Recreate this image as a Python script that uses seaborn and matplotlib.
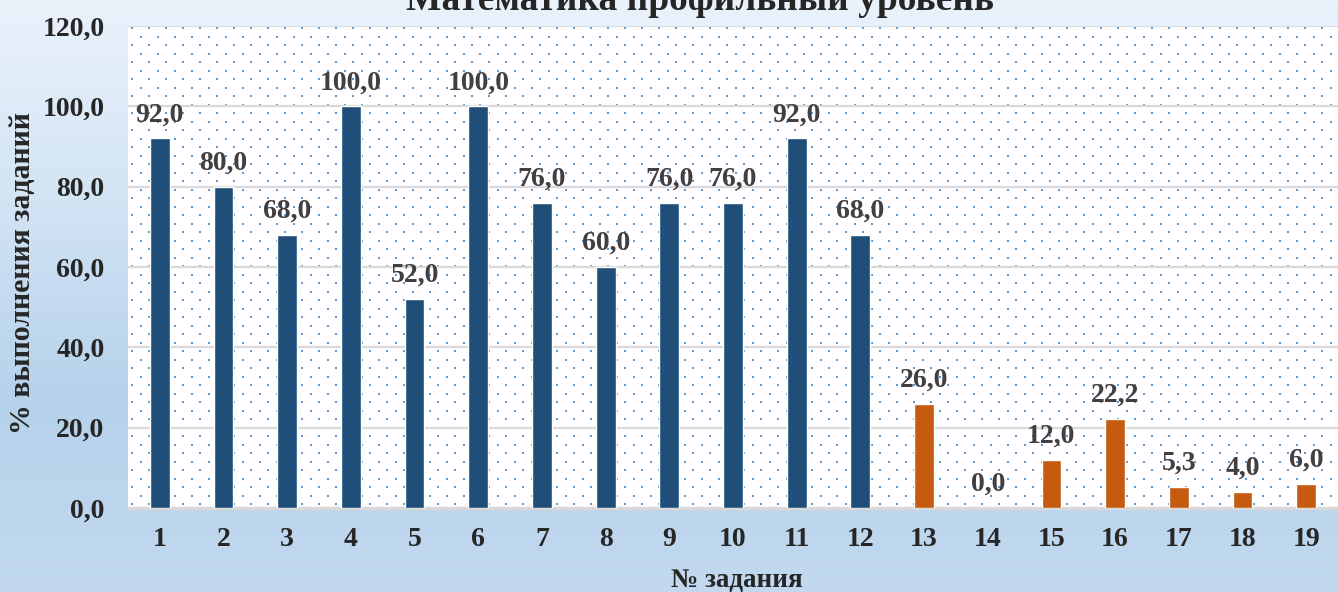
import numpy as np
import pandas as pd
import matplotlib
matplotlib.use("Agg")
import matplotlib.pyplot as plt
from matplotlib.colors import LinearSegmentedColormap
from matplotlib.ticker import FuncFormatter
import seaborn as sns

# ---------- data ----------
tasks = [str(i) for i in range(1, 20)]
percent = [92.0, 80.0, 68.0, 100.0, 52.0, 100.0, 76.0, 60.0, 76.0, 76.0, 92.0, 68.0,
           26.0, 0.0, 12.0, 22.2, 5.3, 4.0, 6.0]
part = ["base"] * 12 + ["profile"] * 7

df = pd.DataFrame({"task": tasks, "pct": percent, "part": part})
colors = {"base": "#1f4e79", "profile": "#c55a11"}

sns.set_style("white")
plt.rcParams["font.family"] = ["Liberation Serif", "DejaVu Serif"]
plt.rcParams["font.weight"] = "bold"

fig = plt.figure(figsize=(13.38, 5.92), dpi=100)

# ---------- background gradient ----------
bg = fig.add_axes([0, 0, 1, 1], zorder=-10)
grad = np.linspace(0, 1, 256).reshape(-1, 1)
cmap = LinearSegmentedColormap.from_list("bg", ["#eaf2fb", "#d3e4f4", "#b6d2eb", "#c2d9ef"])
bg.imshow(grad, aspect="auto", cmap=cmap, extent=[0, 1, 0, 1], origin="upper")
bg.axis("off")

ax = fig.add_axes([128 / 1338, 1 - 508 / 592, 1210 / 1338, 482 / 592])
ax.set_facecolor("white")

# dotted pattern of the plot area
xs = np.arange(0, 1210, 17.0)
ys = np.arange(0, 482, 8.5)
px, py = [], []
for j, yy in enumerate(ys):
    off = 0 if j % 2 == 0 else 8.5
    px.extend((xs + off + 4) / 1210)
    py.extend([(yy + 4) / 482] * len(xs))
ax.scatter(px, py, s=3, color="#5b9bd5", marker="s", linewidths=0,
           transform=ax.transAxes, zorder=0, clip_on=True)

sns.barplot(data=df, x="task", y="pct", hue="part", palette=colors, dodge=False,
            width=0.31, legend=False, ax=ax, zorder=3, saturation=1)

for cont in ax.containers:
    ax.bar_label(cont, labels=[f"{v:.1f}".replace(".", ",") for v in cont.datavalues],
                 padding=8, fontsize=20, fontweight="bold", color="#404040")

ax.set_ylim(0, 120)
ax.set_yticks(np.arange(0, 121, 20))
ax.yaxis.set_major_formatter(FuncFormatter(lambda v, p: f"{v:.1f}".replace(".", ",")))
ax.grid(axis="y", color="#d9d9d9", linewidth=1.6, zorder=1)
ax.set_axisbelow(True)
for s in ["top", "right", "left"]:
    ax.spines[s].set_visible(False)
ax.spines["bottom"].set_color("#d9d9d9")
ax.spines["bottom"].set_linewidth(2.5)
ax.tick_params(axis="both", length=0, labelsize=20)
ax.tick_params(axis="y", pad=17)
ax.tick_params(axis="x", pad=14)
for lab in ax.get_xticklabels() + ax.get_yticklabels():
    lab.set_fontweight("bold")

ax.set_xlabel("№ задания", fontsize=19.5, fontweight="bold", va="center")
ax.set_ylabel("% выполнения заданий", fontsize=21.5, fontweight="bold", va="center")
ax.xaxis.set_label_coords(609 / 1210, -72 / 482)
ax.yaxis.set_label_coords(-105 / 1210, (508 - 273) / 482)

fig.text(0.523, 1 - 10 / 592, "Математика профильный уровень", ha="center", va="baseline",
         fontsize=27, fontweight="bold")

fig.savefig("out.png", dpi=100)
